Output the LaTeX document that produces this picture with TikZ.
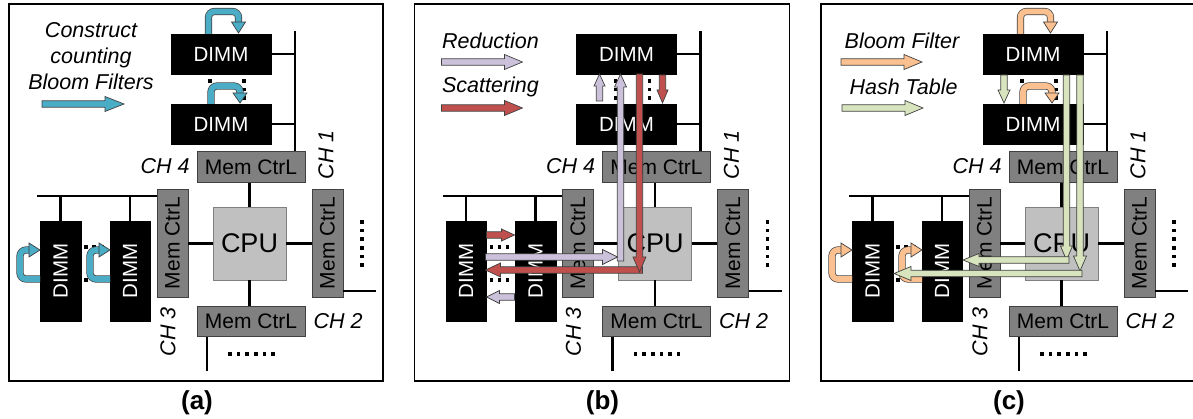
\documentclass[tikz,border=0pt]{standalone}
\usepackage{fontspec}
\setmainfont{Liberation Sans}
\usetikzlibrary{calc}
\definecolor{bluef}{HTML}{4BACC6}
\definecolor{lavf}{HTML}{CCC1DA}
\definecolor{redf}{HTML}{C0504D}
\definecolor{orgf}{HTML}{FAC090}
\definecolor{grnf}{HTML}{D7E4BD}
\definecolor{mcf}{HTML}{808080}
\definecolor{cpuf}{HTML}{C0C0C0}
\definecolor{aline}{HTML}{404040}
\tikzset{
 frame/.style={line width=1.8pt},
 bus/.style={line width=2.8pt},
 dimmh/.style={fill=black,draw=black,text=white,inner sep=0pt,minimum width=100pt,minimum height=40pt,font=\fontsize{20.5}{20.5}\selectfont},
 dimmv/.style={fill=black,draw=black,text=white,inner sep=0pt,minimum width=40.5pt,minimum height=100pt,font=\fontsize{20.5}{20.5}\selectfont},
 mch/.style={fill=mcf,draw=aline,line width=0.8pt,inner sep=0pt,minimum width=108pt,minimum height=30.5pt,font=\fontsize{21}{21}\selectfont},
 mcv/.style={fill=mcf,draw=aline,line width=0.8pt,inner sep=0pt,minimum width=31pt,minimum height=108pt,font=\fontsize{21}{21}\selectfont},
 cpubox/.style={fill=cpuf,draw=mcf,line width=0.8pt,inner sep=0pt,minimum width=73pt,minimum height=73pt,font=\fontsize{27}{27}\selectfont},
 chl/.style={inner sep=0pt,font=\itshape\fontsize{21.5}{21.5}\selectfont},
 lbl/.style={inner sep=0pt,font=\bfseries\fontsize{26}{26}\selectfont},
 legend/.style={inner sep=0pt,align=center,font=\itshape\fontsize{21.5}{26}\selectfont},
 ablue/.style={fill=bluef,draw=black!75,line width=0.7pt,line join=miter},
 alav/.style={fill=lavf,draw=black!75,line width=0.7pt,line join=miter},
 ared/.style={fill=redf,draw=black!75,line width=0.7pt,line join=miter},
 aorg/.style={fill=orgf,draw=black!75,line width=0.7pt,line join=miter},
 agrn/.style={fill=grnf,draw=black!75,line width=0.7pt,line join=miter},
 loopblue/.style={draw=black!75,line width=0.7pt,double=bluef,double distance=5.8pt,rounded corners=6pt},
 looporg/.style={draw=black!75,line width=0.7pt,double=orgf,double distance=5.8pt,rounded corners=6pt},
}
% straight block arrow: #1 style, (#2,#3) tail, (#4,#5) tip, #6 head half width, #7 head length
\newcommand\barr[7]{%
 \pgfmathsetmacro\bdx{#4-(#2)}%
 \pgfmathsetmacro\bdy{#5-(#3)}%
 \pgfmathsetmacro\bang{atan2(-\bdy,\bdx)}%
 \pgfmathsetmacro\blen{veclen(\bdx,\bdy)}%
 \pgfmathsetmacro\bbase{\blen-#7}%
 \draw[#1,shift={(#2,#3)},rotate=\bang] (0,-3.2) -- (\bbase,-3.2) -- (\bbase,-#6) -- (\blen,0) -- (\bbase,#6) -- (\bbase,3.2) -- (0,3.2) -- cycle;
}
% arrow head pointing down / right
\newcommand\headdown[4]{\draw[#1] (#2-7,#3) -- (#2+7,#3) -- (#2,#4) -- cycle;}
\newcommand\headright[4]{\draw[#1] (#2,#4-7) -- (#2,#4+7) -- (#3,#4) -- cycle;}
\newcommand\sqdot[2]{\fill[black] (#1-1.8,#2-1.8) rectangle (#1+1.8,#2+1.8);}
\newcommand\panelbase[2]{% #1 label, #2 frame right edge
 \draw[frame] (9,4) rectangle (#2,381);
 \node[lbl] (lab) at (197,403) {(#1)};
 \node[dimmh] (d1) at (221,54) {DIMM};
 \node[dimmh] (d2) at (221,124) {DIMM};
 \node[mch] (m4) at (251,167) {Mem CtrL};
 \node[mch] (m2) at (251,321.5) {Mem CtrL};
 \node[mcv] (m3) at (172.5,243) {\rotatebox{90}{Mem CtrL}};
 \node[mcv] (m1) at (327.5,243) {\rotatebox{90}{Mem CtrL}};
 \node[cpubox] (cpu) at (249.5,243.5) {CPU};
 \node[dimmv] (l1) at (60.5,271) {\rotatebox{90}{DIMM}};
 \node[dimmv] (l2) at (130,271) {\rotatebox{90}{DIMM}};
 \coordinate (tb) at (295,31);
 \coordinate (lb) at (37,196);
 \coordinate (rb) at (376,291);
 \coordinate (bb) at (207,371);
 \draw[bus] (tb) -- (tb |- m4.north);
 \draw[bus] (d1.east) -- (d1.east -| tb);
 \draw[bus] (d2.east) -- (d2.east -| tb);
 \draw[bus] (cpu.north) -- (cpu.north |- m4.south);
 \draw[bus] (cpu.south) -- (cpu.south |- m2.north);
 \draw[bus] (cpu.west) -- (cpu.west -| m3.east);
 \draw[bus] (cpu.east) -- (cpu.east -| m1.west);
 \draw[bus] (lb) -- (lb -| m3.west);
 \draw[bus] (l1.north) -- (l1.north |- lb);
 \draw[bus] (l2.north) -- (l2.north |- lb);
 \draw[bus] (rb) -- (rb -| m1.east);
 \draw[bus] (bb) -- (bb |- m2.south);
 \node[chl] (ch4) at (165,166) {CH 4};
 \node[chl,rotate=90] (ch1) at (326,155) {CH 1};
 \node[chl] (ch2) at (338,321) {CH 2};
 \node[chl,rotate=90] (ch3) at (168,332) {CH 3};
 \foreach \yy in {222,230.6,239.2,247.8,256.4,265} {\sqdot{362}{\yy}}
 \foreach \xx in {230,238.6,247.2,255.8,264.4,273} {\sqdot{\xx}{354}}
 \foreach \yy in {81,89.5,98} {\sqdot{210}{\yy}\sqdot{244}{\yy}}
 \foreach \xx in {86,94,102} {\sqdot{\xx}{247}\sqdot{\xx}{280}}
}
% loops
\newcommand\toploops[2]{% #1 loop style, #2 head style
 \draw[#1] (208.5,34) -- (208.5,11.5) -- (238.5,11.5) -- (238.5,23);
 \headdown{#2}{238.5}{22}{33}
 \draw[#1] (211,104) -- (211,86) -- (240,86) -- (240,94);
 \headdown{#2}{240}{93}{103}
}
\newcommand\leftloops[2]{%
 \draw[#1] (40,279) -- (20,279) -- (20,250) -- (30,250);
 \headright{#2}{29}{40}{250}
 \draw[#1] (110,279) -- (90,279) -- (90,250) -- (100,250);
 \headright{#2}{99}{110}{250}
}
\begin{document}
\begin{tikzpicture}[x=1pt,y=-1pt]
\useasboundingbox (0,0) rectangle (1193,419);
% ---------- (a)
\begin{scope}[name prefix=a-]
 \panelbase{a}{383}
 \node[legend] (leg) at (91,56) {Construct\\counting\\Bloom Filters};
 \barr{ablue}{42}{104}{124}{104}{7.5}{19}
 \toploops{loopblue}{ablue}
 \leftloops{loopblue}{ablue}
\end{scope}
% ---------- (b)
\begin{scope}[shift={(405.5,0)},name prefix=b-]
 \panelbase{b}{384}
 \node[legend] (leg1) at (85,41) {Reduction};
 \node[legend] (leg2) at (85,87) {Scattering};
 \barr{alav}{36}{62}{117}{62}{7.5}{18}
 \barr{ared}{36}{108}{117}{108}{7.5}{18}
 \barr{alav}{194}{101}{194}{74}{5.5}{12}
 \barr{alav}{215}{261}{215}{74}{6}{13}
 \barr{alav}{80}{257}{212}{257}{7.5}{15}
 \barr{ared}{237}{270}{80}{270}{7}{15}
 \barr{ared}{234}{74}{234}{272}{6.5}{15}
 \barr{ared}{257}{75}{257}{103}{5.5}{13}
 \barr{ared}{81}{235}{109}{235}{6}{13}
 \barr{alav}{109}{297}{81}{297}{6.5}{13}
\end{scope}
% ---------- (c)
\begin{scope}[shift={(812,0)},name prefix=c-]
 \panelbase{c}{390}
 \node[legend] (leg1) at (90,41) {Bloom Filter};
 \node[legend] (leg2) at (91.5,87) {Hash Table};
 \barr{aorg}{29}{62}{110}{62}{7.5}{18}
 \barr{agrn}{30}{108}{111}{108}{7.5}{18}
 \toploops{looporg}{aorg}
 \leftloops{looporg}{aorg}
 \barr{agrn}{192}{75}{192}{103}{6}{13}
 \barr{agrn}{254.5}{75}{254.5}{260}{6}{14}
 \barr{agrn}{268}{75}{268}{271}{6.5}{15}
 \barr{agrn}{257}{260}{151}{260}{6.5}{16}
 \barr{agrn}{270}{273.5}{82}{273.5}{7}{17}
\end{scope}
\end{tikzpicture}
\end{document}
